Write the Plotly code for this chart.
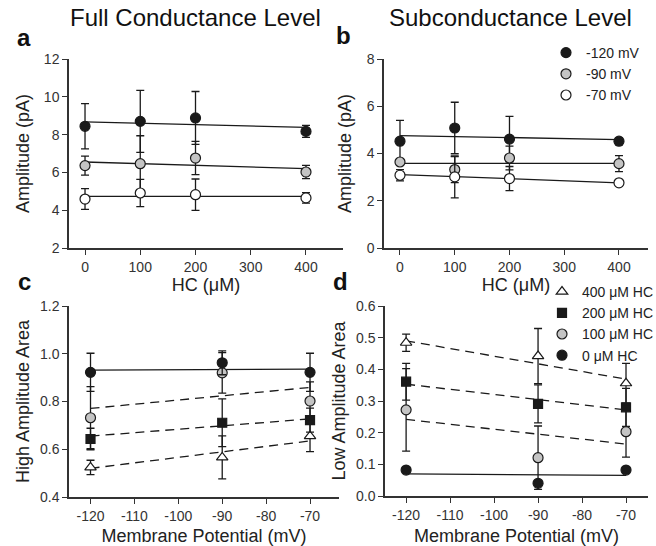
import plotly.graph_objects as go

# ---------------- data ----------------
hc = [0, 100, 200, 400]
hc_fit_x = [0, 400]
hc_ticks = [0, 100, 200, 300, 400]
volt_labels = ["-120 mV", "-90 mV", "-70 mV"]

# Panel a: full conductance amplitude (pA)
full_amp = {
    "-120 mV": [8.44, 8.70, 8.88, 8.17],
    "-90 mV": [6.36, 6.46, 6.76, 6.02],
    "-70 mV": [4.59, 4.91, 4.82, 4.65],
}
full_err = {
    "-120 mV": [1.20, 1.64, 1.40, 0.32],
    "-90 mV": [0.50, 1.48, 0.88, 0.35],
    "-70 mV": [0.55, 0.72, 0.83, 0.28],
}
full_fit = {
    "-120 mV": [8.67, 8.38],
    "-90 mV": [6.55, 6.20],
    "-70 mV": [4.73, 4.73],
}

# Panel b: subconductance amplitude (pA)
sub_amp = {
    "-120 mV": [4.52, 5.08, 4.61, 4.52],
    "-90 mV": [3.64, 3.32, 3.81, 3.57],
    "-70 mV": [3.08, 3.01, 2.94, 2.76],
}
sub_err = {
    "-120 mV": [0.88, 1.09, 0.96, 0.15],
    "-90 mV": [0.10, 0.55, 0.50, 0.34],
    "-70 mV": [0.24, 0.89, 0.51, 0.08],
}
sub_fit = {
    "-120 mV": [4.76, 4.59],
    "-90 mV": [3.58, 3.58],
    "-70 mV": [3.11, 2.76],
}

# Panels c, d: area vs membrane potential
vm = [-120, -90, -70]
vm_fit_x = [-120, -70]
vm_ticks = [-120, -110, -100, -90, -80, -70]
vm_ticktext = ["-120", "-110", "-100", "-90", "-80", "-70"]
hc_labels = ["400 \u03bcM HC", "200 \u03bcM HC", "100 \u03bcM HC", "0 \u03bcM HC"]

high_area = {
    "0 \u03bcM HC": [0.922, 0.962, 0.922],
    "100 \u03bcM HC": [0.732, 0.920, 0.802],
    "200 \u03bcM HC": [0.643, 0.711, 0.722],
    "400 \u03bcM HC": [0.524, 0.566, 0.655],
}
high_err = {
    "0 \u03bcM HC": [0.08, 0.05, 0.08],
    "100 \u03bcM HC": [0.13, 0.085, 0.08],
    "200 \u03bcM HC": [0.045, 0.10, 0.05],
    "400 \u03bcM HC": [0.03, 0.09, 0.065],
}
high_fit = {
    "0 \u03bcM HC": [0.931, 0.936],
    "100 \u03bcM HC": [0.771, 0.859],
    "200 \u03bcM HC": [0.655, 0.727],
    "400 \u03bcM HC": [0.520, 0.635],
}

low_area = {
    "0 \u03bcM HC": [0.082, 0.040, 0.082],
    "100 \u03bcM HC": [0.272, 0.121, 0.203],
    "200 \u03bcM HC": [0.361, 0.291, 0.280],
    "400 \u03bcM HC": [0.484, 0.442, 0.356],
}
low_err = {
    "0 \u03bcM HC": [0.0, 0.0, 0.0],
    "100 \u03bcM HC": [0.13, 0.10, 0.08],
    "200 \u03bcM HC": [0.058, 0.06, 0.06],
    "400 \u03bcM HC": [0.027, 0.087, 0.063],
}
low_fit = {
    "0 \u03bcM HC": [0.070, 0.065],
    "100 \u03bcM HC": [0.242, 0.164],
    "200 \u03bcM HC": [0.353, 0.272],
    "400 \u03bcM HC": [0.490, 0.369],
}

# ---------------- styles ----------------
FONT = "Liberation Sans, Arial, sans-serif"
INK = "#1a1a1a"
GRAY = "#c4c4c4"
volt_style = {
    "-120 mV": dict(symbol="circle", color=INK),
    "-90 mV": dict(symbol="circle", color=GRAY),
    "-70 mV": dict(symbol="circle", color="white"),
}
hc_style = {
    "400 \u03bcM HC": dict(symbol="triangle-up", color="white", size=10),
    "200 \u03bcM HC": dict(symbol="square", color=INK, size=9),
    "100 \u03bcM HC": dict(symbol="circle", color=GRAY, size=10),
    "0 \u03bcM HC": dict(symbol="circle", color=INK, size=10),
}

fig = go.Figure()


def err(vals):
    return dict(type="data", array=vals, visible=True, color=INK, thickness=1.3, width=4)


# fit lines first (below markers)
for v in volt_labels:
    fig.add_trace(go.Scatter(x=hc_fit_x, y=full_fit[v], mode="lines", xaxis="x", yaxis="y",
                             line=dict(color=INK, width=1.3), showlegend=False, hoverinfo="skip"))
    fig.add_trace(go.Scatter(x=hc_fit_x, y=sub_fit[v], mode="lines", xaxis="x2", yaxis="y2",
                             line=dict(color=INK, width=1.3), showlegend=False, hoverinfo="skip"))
for h in hc_labels:
    dash = "solid" if h.startswith("0 ") else "9px,6px"
    fig.add_trace(go.Scatter(x=vm_fit_x, y=high_fit[h], mode="lines", xaxis="x3", yaxis="y3",
                             line=dict(color=INK, width=1.3, dash=dash), showlegend=False, hoverinfo="skip"))
    fig.add_trace(go.Scatter(x=vm_fit_x, y=low_fit[h], mode="lines", xaxis="x4", yaxis="y4",
                             line=dict(color=INK, width=1.3, dash=dash), showlegend=False, hoverinfo="skip"))

# panels a, b markers
for v in volt_labels:
    st = volt_style[v]
    mk = dict(symbol=st["symbol"], color=st["color"], size=10, line=dict(color=INK, width=1.2))
    fig.add_trace(go.Scatter(x=hc, y=full_amp[v], error_y=err(full_err[v]), mode="markers",
                             xaxis="x", yaxis="y", marker=mk, showlegend=False))
    fig.add_trace(go.Scatter(x=hc, y=sub_amp[v], error_y=err(sub_err[v]), mode="markers",
                             xaxis="x2", yaxis="y2", marker=mk, name=v, legend="legend"))

# panels c, d markers
for h in hc_labels:
    st = hc_style[h]
    mk = dict(symbol=st["symbol"], color=st["color"], size=st["size"], line=dict(color=INK, width=1.2))
    fig.add_trace(go.Scatter(x=vm, y=high_area[h], error_y=err(high_err[h]), mode="markers",
                             xaxis="x3", yaxis="y3", marker=mk, showlegend=False))
    fig.add_trace(go.Scatter(x=vm, y=low_area[h], error_y=err(low_err[h]), mode="markers",
                             xaxis="x4", yaxis="y4", marker=mk, name=h, legend="legend2"))

W, H = 656, 546


def xd(a, b):
    return [a / W, b / W]


def yd(top, bottom):
    return [1 - bottom / H, 1 - top / H]


axis_common = dict(showgrid=False, zeroline=False, showline=True, linecolor="#333", linewidth=1.5,
                   ticks="outside", ticklen=5, tickwidth=1.3, tickcolor="#333",
                   tickfont=dict(family=FONT, size=14, color="#333"),
                   title_font=dict(family=FONT, size=18, color="#222"))

fig.update_layout(
    width=W, height=H, margin=dict(l=0, r=0, t=0, b=0, autoexpand=False),
    paper_bgcolor="white", plot_bgcolor="white",
    font=dict(family=FONT, color="#222"),
    xaxis=dict(domain=xd(69, 343), anchor="y", range=[-29, 467], tickvals=hc_ticks,
               title=dict(text="HC (\u03bcM)", standoff=2), **axis_common),
    yaxis=dict(domain=yd(59, 248), anchor="x", range=[2, 12], tickvals=[2, 4, 6, 8, 10, 12],
               title=dict(text="Amplitude (pA)", standoff=10), **axis_common),
    xaxis2=dict(domain=xd(384, 648), anchor="y2", range=[-29.2, 453], tickvals=hc_ticks,
                title=dict(text="HC (\u03bcM)", standoff=2), **axis_common),
    yaxis2=dict(domain=yd(59, 248), anchor="x2", range=[0, 8], tickvals=[0, 2, 4, 6, 8],
                title=dict(text="Amplitude (pA)", standoff=10), **axis_common),
    xaxis3=dict(domain=xd(69, 339), anchor="y3", range=[-124.9, -63.4],
                tickvals=vm_ticks, ticktext=vm_ticktext,
                title=dict(text="Membrane Potential (mV)", standoff=12), **axis_common),
    yaxis3=dict(domain=yd(306, 497), anchor="x3", range=[0.4, 1.2], tickvals=[0.4, 0.6, 0.8, 1.0, 1.2],
                tickformat=".1f", title=dict(text="High Amplitude Area", standoff=6), **axis_common),
    xaxis4=dict(domain=xd(385, 648), anchor="y4", range=[-124.8, -65],
                tickvals=vm_ticks, ticktext=vm_ticktext,
                title=dict(text="Membrane Potential (mV)", standoff=12), **axis_common),
    yaxis4=dict(domain=yd(306, 496), anchor="x4", range=[0, 0.6],
                tickvals=[0.0, 0.1, 0.2, 0.3, 0.4, 0.5, 0.6],
                tickformat=".1f", title=dict(text="Low Amplitude Area", standoff=6), **axis_common),
    legend=dict(x=546 / W, y=1 - 37 / H, xanchor="left", yanchor="top", bgcolor="rgba(0,0,0,0)",
                font=dict(family=FONT, size=14, color="#222"), itemwidth=30, tracegroupgap=0),
    legend2=dict(x=542 / W, y=1 - 276 / H, xanchor="left", yanchor="top", bgcolor="rgba(0,0,0,0)",
                 font=dict(family=FONT, size=14, color="#222"), itemwidth=30, tracegroupgap=0),
    showlegend=True,
)

ann = [
    dict(text="Full Conductance Level", x=195 / W, y=1 - 18 / H, size=24, bold=False),
    dict(text="Subconductance Level", x=510 / W, y=1 - 18 / H, size=24, bold=False),
    dict(text="a", x=24 / W, y=1 - 38 / H, size=24, bold=True),
    dict(text="b", x=343 / W, y=1 - 36 / H, size=24, bold=True),
    dict(text="c", x=24 / W, y=1 - 281 / H, size=24, bold=True),
    dict(text="d", x=340 / W, y=1 - 281 / H, size=24, bold=True),
]
for a in ann:
    txt = "<b>%s</b>" % a["text"] if a["bold"] else a["text"]
    fig.add_annotation(text=txt, x=a["x"], y=a["y"], xref="paper", yref="paper",
                       xanchor="center", yanchor="middle", showarrow=False,
                       font=dict(family=FONT, size=a["size"], color="#111"))

fig.write_html("out.html", config={"displayModeBar": False},
               post_script="document.body.style.margin='0px';")
